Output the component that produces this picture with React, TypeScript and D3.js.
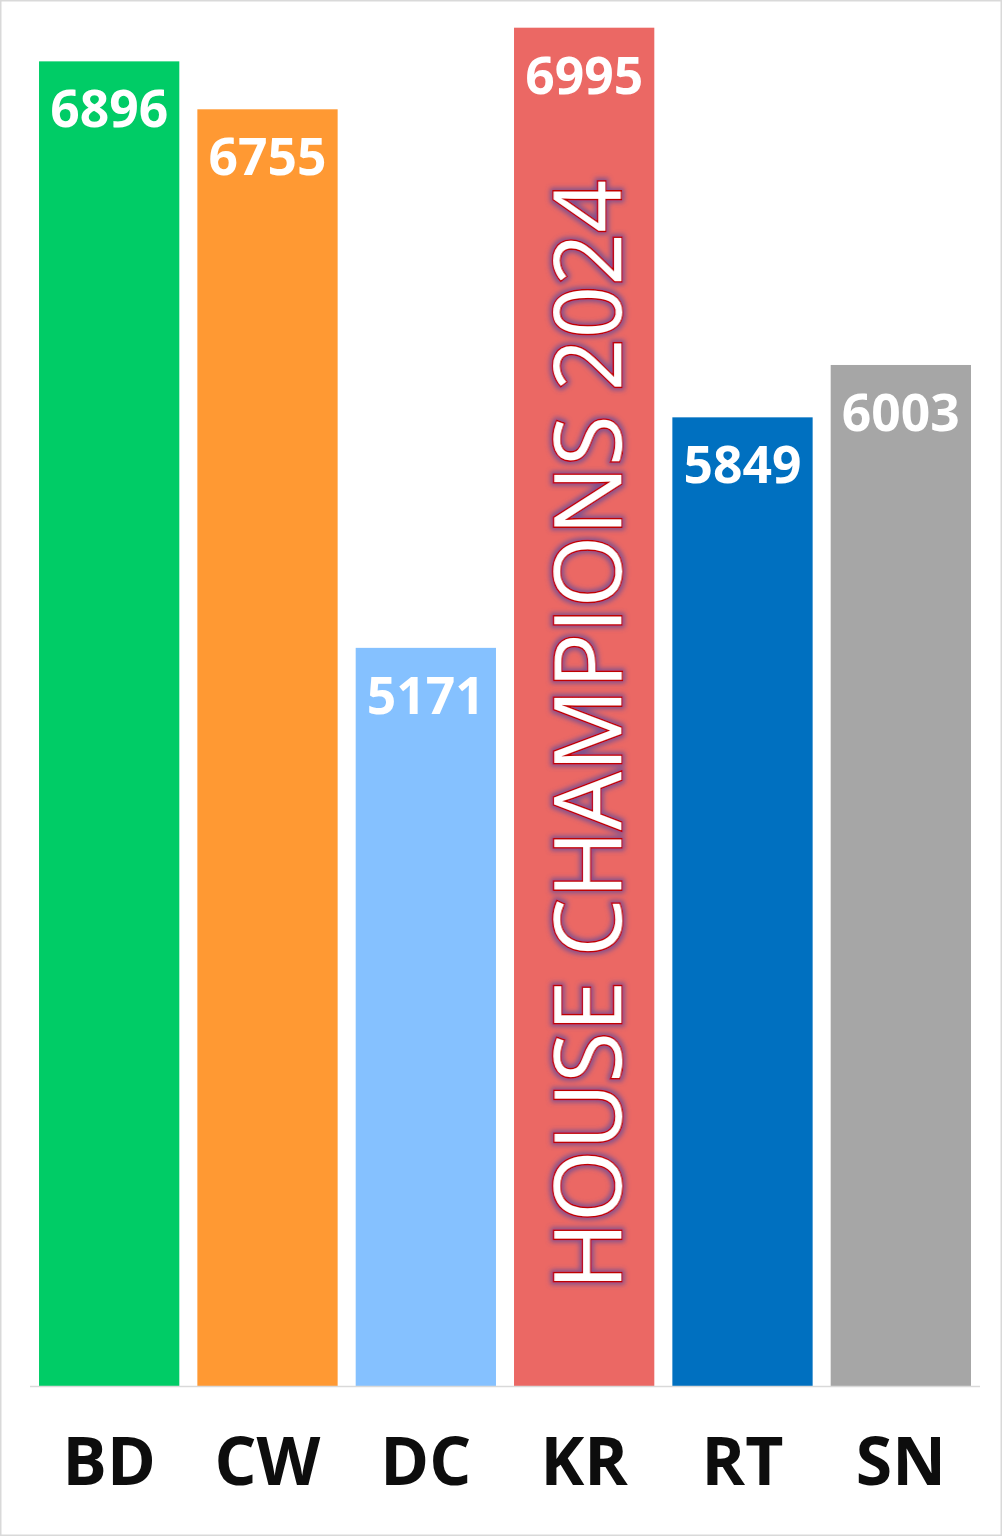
import React from "react";
import * as d3 from "d3";

const categories = ["BD", "CW", "DC", "KR", "RT", "SN"];
const values = [6896, 6755, 5171, 6995, 5849, 6003];
const colors = ["#00CC66", "#FF9933", "#85C1FF", "#EB6864", "#0070C0", "#A6A6A6"];
const yDomain = [3000, 7000];
const bannerText = "HOUSE CHAMPIONS 2024";
const bannerCategory = "KR";

const W = 1002;
const H = 1536;

export default function App() {
  const x = d3.scaleBand<string>().domain(categories).range([30, 980]).paddingInner(0.114).paddingOuter(0.057);
  const y = d3.scaleLinear().domain(yDomain).range([1386, 26]);
  const bx = (x(bannerCategory) ?? 0) + x.bandwidth() / 2;
  const fontLabel = "'Open Sans', 'DejaVu Sans', sans-serif";
  return (
    <svg
      width={W}
      height={H}
      style={{ position: "absolute", left: 0, top: 0, background: "#fff" }}
    >
      <defs>
        <filter id="glow" x="-20%" y="-20%" width="140%" height="140%">
          <feMorphology in="SourceAlpha" operator="dilate" radius="2" result="dil" />
          <feGaussianBlur in="dil" stdDeviation="2.5" result="blur" />
          <feFlood floodColor="#5a4a9c" floodOpacity="0.75" result="col" />
          <feComposite in="col" in2="blur" operator="in" result="glow" />
          <feMerge>
            <feMergeNode in="glow" />
            <feMergeNode in="SourceGraphic" />
          </feMerge>
        </filter>
      </defs>
      <rect x={0.5} y={0.5} width={W - 1} height={H - 1} fill="#fff" stroke="#d9d9d9" strokeWidth={2} />
      {categories.map((c, i) => (
        <rect
          key={c}
          x={x(c)}
          y={y(values[i])}
          width={x.bandwidth()}
          height={y(yDomain[0]) - y(values[i])}
          fill={colors[i]}
        />
      ))}
      <line x1={30} x2={980} y1={y(yDomain[0]) + 0.5} y2={y(yDomain[0]) + 0.5} stroke="#d9d9d9" strokeWidth={1.5} />
      {categories.map((c, i) => (
        <text
          key={"v" + c}
          x={(x(c) ?? 0) + x.bandwidth() / 2}
          y={y(values[i]) + 66}
          textAnchor="middle"
          fill="#fff"
          fontFamily={fontLabel}
          fontWeight={700}
          fontSize={52}
          textLength={118}
          lengthAdjust="spacingAndGlyphs"
        >
          {values[i]}
        </text>
      ))}
      {categories.map((c) => (
        <text
          key={"c" + c}
          x={(x(c) ?? 0) + x.bandwidth() / 2}
          y={1485}
          textAnchor="middle"
          fill="#0d0d0d"
          fontFamily={fontLabel}
          fontWeight={700}
          fontSize={66}
        >
          {c}
        </text>
      ))}
      <text
        transform={`translate(${bx + 37},735) rotate(-90)`}
        textAnchor="middle"
        fill="#fff"
        stroke="#C00000"
        strokeWidth={3.2}
        paintOrder="stroke"
        fontFamily={fontLabel}
        fontWeight={500}
        fontSize={94}
        textLength={1110}
        lengthAdjust="spacingAndGlyphs"
        filter="url(#glow)"
      >
        {bannerText}
      </text>
    </svg>
  );
}
